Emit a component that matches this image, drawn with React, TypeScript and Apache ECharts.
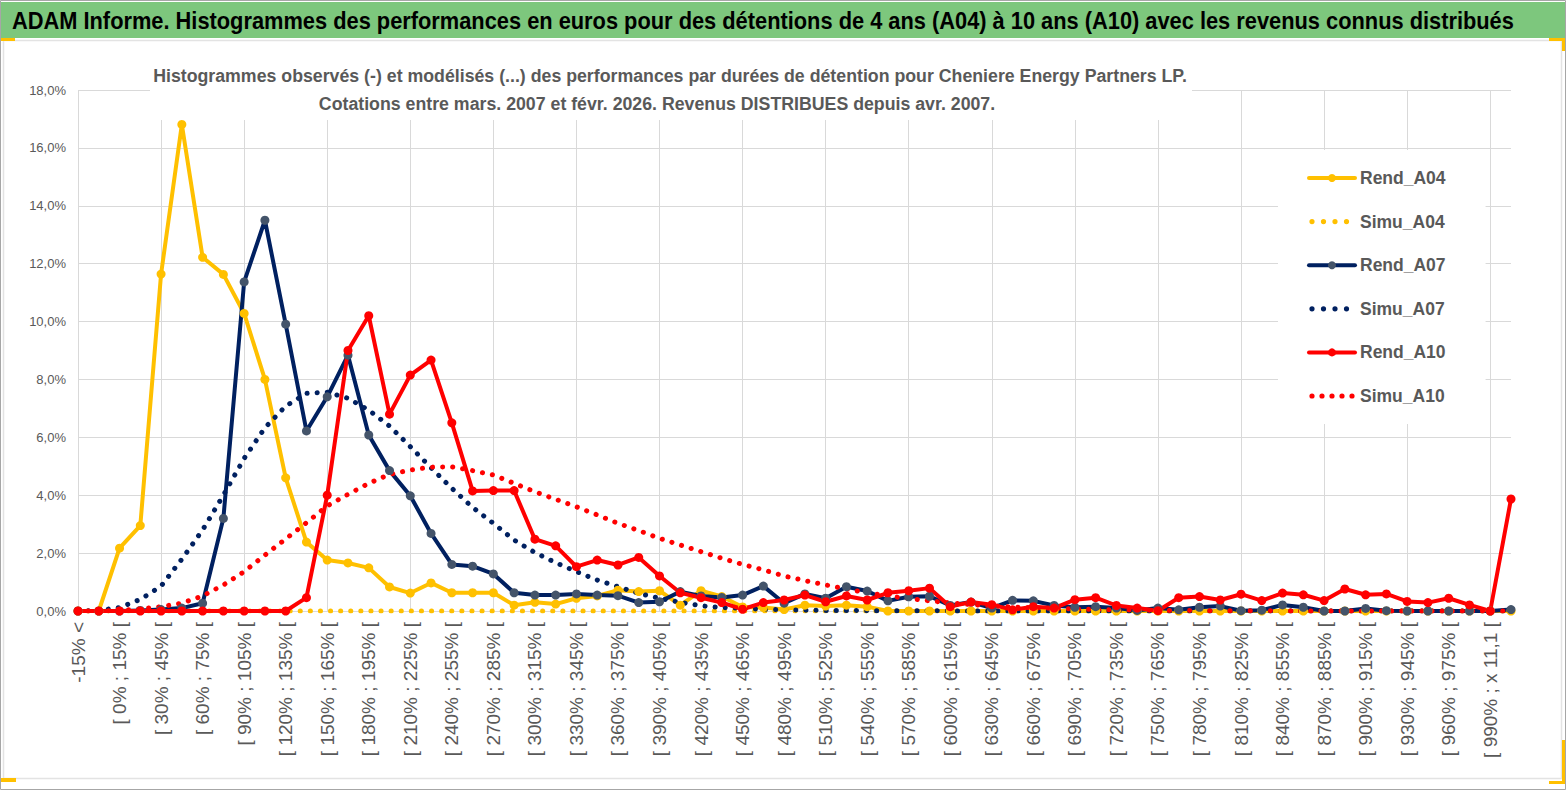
import React, { useEffect, useRef } from "react";
import * as echarts from "echarts";

const FONT = "'Liberation Sans', Arial, sans-serif";

const categories = [
  "-15% <", "[ -15% ; 0% [", "[ 0% ; 15% [", "[ 15% ; 30% [", "[ 30% ; 45% [", "[ 45% ; 60% [",
  "[ 60% ; 75% [", "[ 75% ; 90% [", "[ 90% ; 105% [", "[ 105% ; 120% [", "[ 120% ; 135% [", "[ 135% ; 150% [",
  "[ 150% ; 165% [", "[ 165% ; 180% [", "[ 180% ; 195% [", "[ 195% ; 210% [", "[ 210% ; 225% [", "[ 225% ; 240% [",
  "[ 240% ; 255% [", "[ 255% ; 270% [", "[ 270% ; 285% [", "[ 285% ; 300% [", "[ 300% ; 315% [", "[ 315% ; 330% [",
  "[ 330% ; 345% [", "[ 345% ; 360% [", "[ 360% ; 375% [", "[ 375% ; 390% [", "[ 390% ; 405% [", "[ 405% ; 420% [",
  "[ 420% ; 435% [", "[ 435% ; 450% [", "[ 450% ; 465% [", "[ 465% ; 480% [", "[ 480% ; 495% [", "[ 495% ; 510% [",
  "[ 510% ; 525% [", "[ 525% ; 540% [", "[ 540% ; 555% [", "[ 555% ; 570% [", "[ 570% ; 585% [", "[ 585% ; 600% [",
  "[ 600% ; 615% [", "[ 615% ; 630% [", "[ 630% ; 645% [", "[ 645% ; 660% [", "[ 660% ; 675% [", "[ 675% ; 690% [",
  "[ 690% ; 705% [", "[ 705% ; 720% [", "[ 720% ; 735% [", "[ 735% ; 750% [", "[ 750% ; 765% [", "[ 765% ; 780% [",
  "[ 780% ; 795% [", "[ 795% ; 810% [", "[ 810% ; 825% [", "[ 825% ; 840% [", "[ 840% ; 855% [", "[ 855% ; 870% [",
  "[ 870% ; 885% [", "[ 885% ; 900% [", "[ 900% ; 915% [", "[ 915% ; 930% [", "[ 930% ; 945% [", "[ 945% ; 960% [",
  "[ 960% ; 975% [", "[ 975% ; 990% [", "[ 990% ; x 11,1 [", "x 11,1 <",
];

const rendA04 = [
  0, 0, 2.17, 2.95, 11.64, 16.81, 12.22, 11.63, 10.28, 8.0,
  4.6, 2.38, 1.76, 1.66, 1.49, 0.83, 0.62, 0.97, 0.63, 0.63,
  0.63, 0.2, 0.3, 0.24, 0.44, 0.52, 0.72, 0.67, 0.7, 0.2,
  0.7, 0.5, 0.14, 0.12, 0.05, 0.2, 0.17, 0.2, 0.15, 0,
  0, 0, 0, 0, 0, 0, 0, 0, 0, 0,
  0, 0, 0, 0, 0, 0, 0, 0, 0, 0,
  0, 0, 0, 0, 0, 0, 0, 0, 0, 0,
];

const simuA04 = [
  0, 0, 0, 0, 0, 0, 0, 0, 0, 0,
  0, 0, 0, 0, 0, 0, 0, 0, 0, 0,
  0, 0, 0, 0, 0, 0, 0, 0, 0, 0,
  0, 0, 0, 0, 0, 0, 0, 0, 0, 0,
  0, 0, 0, 0, 0, 0, 0, 0, 0, 0,
  0, 0, 0, 0, 0, 0, 0, 0, 0, 0,
  0, 0, 0, 0, 0, 0, 0, 0, 0, 0,
];

const rendA07 = [
  0, 0, 0, 0.02, 0.05, 0.1, 0.27, 3.2, 11.37, 13.5,
  9.91, 6.22, 7.4, 8.84, 6.08, 4.85, 3.98, 2.68, 1.61, 1.55,
  1.28, 0.63, 0.55, 0.55, 0.59, 0.55, 0.53, 0.29, 0.32, 0.67,
  0.52, 0.47, 0.55, 0.86, 0.27, 0.59, 0.44, 0.84, 0.69, 0.35,
  0.49, 0.51, 0.19, 0.31, 0.1, 0.37, 0.35, 0.19, 0.13, 0.15,
  0.1, 0.02, 0.1, 0.04, 0.13, 0.17, 0.01, 0.03, 0.21, 0.13,
  0, 0, 0.09, 0.01, 0, 0, 0, 0, 0, 0.05,
];

const simuA07 = [
  0, 0.02, 0.12, 0.4, 0.86, 1.79, 2.8, 4.0, 5.27, 6.33,
  7.08, 7.52, 7.56, 7.35, 6.94, 6.39, 5.68, 4.95, 4.24, 3.58,
  3.03, 2.45, 2.02, 1.67, 1.36, 1.07, 0.84, 0.61, 0.44, 0.3,
  0.18, 0.12, 0.09, 0.06, 0.04, 0.03, 0.02, 0.02, 0.01, 0.01,
  0.01, 0.01, 0, 0, 0, 0, 0, 0, 0, 0,
  0, 0, 0, 0, 0, 0, 0, 0, 0, 0,
  0, 0, 0, 0, 0, 0, 0, 0, 0, 0,
];

const rendA10 = [
  0, 0, 0, 0, 0, 0, 0, 0, 0, 0,
  0, 0.46, 4.0, 9.0, 10.2, 6.8, 8.15, 8.67, 6.5, 4.15,
  4.16, 4.16, 2.48, 2.25, 1.53, 1.76, 1.59, 1.85, 1.21, 0.63,
  0.46, 0.29, 0.06, 0.29, 0.38, 0.55, 0.32, 0.52, 0.38, 0.63,
  0.7, 0.79, 0.15, 0.31, 0.22, 0.04, 0.15, 0.1, 0.39, 0.46,
  0.19, 0.1, 0.01, 0.46, 0.5, 0.38, 0.58, 0.36, 0.62, 0.56,
  0.36, 0.76, 0.56, 0.59, 0.33, 0.29, 0.44, 0.21, 0, 3.87,
];

const simuA10 = [
  0, 0, 0.02, 0.07, 0.15, 0.27, 0.52, 0.9, 1.36, 1.93,
  2.49, 3.05, 3.63, 4.03, 4.41, 4.72, 4.87, 4.97, 4.98, 4.85,
  4.7, 4.41, 4.12, 3.86, 3.6, 3.32, 3.03, 2.78, 2.51, 2.28,
  2.05, 1.82, 1.61, 1.42, 1.21, 1.05, 0.9, 0.76, 0.63, 0.52,
  0.43, 0.35, 0.28, 0.22, 0.18, 0.14, 0.11, 0.09, 0.07, 0.05,
  0.04, 0.03, 0.02, 0.02, 0.01, 0.01, 0.01, 0.01, 0, 0,
  0, 0, 0, 0, 0, 0, 0, 0, 0, 0,
];

const yTicks = { min: 0, max: 18, interval: 2 };

const TITLE =
  "ADAM Informe. Histogrammes des performances en euros pour des détentions de 4 ans (A04) à 10 ans (A10) avec les revenus connus distribués";
const SUB1 =
  "Histogrammes observés (-) et modélisés (...) des performances par durées de détention pour Cheniere Energy Partners LP.";
const SUB2 = "Cotations entre mars. 2007 et févr. 2026. Revenus DISTRIBUES depuis avr. 2007.";

const YELLOW = "#FFC000";
const NAVY = "#002060";
const SLATE = "#44546A";
const RED = "#FF0000";

const circle = (cx: number) => `M${cx - 2.6},5 a2.6,2.6 0 1,0 5.2,0 a2.6,2.6 0 1,0 -5.2,0 Z`;
const DOTS4 = "path://M0,0 " + [3, 14.5, 26, 37.5].map(circle).join(" ") + " M46,10";
const DOTS5 = "path://M0,0 " + [3, 13, 23, 33, 43].map(circle).join(" ") + " M46,10";

function solid(name: string, data: number[], line: string, marker: string) {
  return {
    name,
    type: "line",
    data,
    symbol: "circle",
    symbolSize: 9,
    showSymbol: true,
    lineStyle: { color: line, width: 4, cap: "round", join: "round" },
    itemStyle: { color: marker, borderWidth: 0 },
    emphasis: { disabled: true },
  };
}

function dotted(name: string, data: number[], color: string) {
  return {
    name,
    type: "line",
    data,
    symbol: "none",
    lineStyle: { color, width: 5, type: [0.1, 10], cap: "round" },
    itemStyle: { color },
    emphasis: { disabled: true },
  };
}

export default function App() {
  const ref = useRef<HTMLDivElement>(null);
  useEffect(() => {
    if (!ref.current) return;
    const chart = echarts.init(ref.current, null, { renderer: "svg" });
    chart.setOption({
      animation: false,
      backgroundColor: "#ffffff",
      textStyle: { fontFamily: FONT },
      graphic: [
        { type: "rect", z: -10, shape: { x: 0.5, y: 0.5, width: 1565, height: 789 }, style: { fill: "#fff", stroke: "#A6A6A6", lineWidth: 1 } },
        { type: "rect", z: -9, shape: { x: 3.5, y: 40.5, width: 1558, height: 738 }, style: { fill: "#fff", stroke: "#E3E3E3", lineWidth: 1.5 } },
        { type: "rect", z: 10, shape: { x: 1, y: 2, width: 1564, height: 36 }, style: { fill: "#7DC77D" } },
        { type: "rect", z: 10, shape: { x: 1, y: 38, width: 14, height: 3 }, style: { fill: YELLOW } },
        { type: "rect", z: 10, shape: { x: 1549, y: 38, width: 16, height: 3 }, style: { fill: YELLOW } },
        { type: "rect", z: 10, shape: { x: 1562, y: 38, width: 3, height: 13 }, style: { fill: YELLOW } },
        { type: "rect", z: 10, shape: { x: 1, y: 778, width: 15, height: 4 }, style: { fill: YELLOW } },
        { type: "rect", z: 10, shape: { x: 1562, y: 740, width: 3, height: 44 }, style: { fill: YELLOW } },
        { type: "rect", z: 10, shape: { x: 1549, y: 781, width: 16, height: 3 }, style: { fill: YELLOW } },
        {
          type: "text", z: 11, x: 12, y: 21, scaleX: 0.949,
          style: { text: TITLE, fill: "#000", font: `bold 23px ${FONT}`, textAlign: "left", textVerticalAlign: "middle" },
        },
        { type: "rect", z: 5, shape: { x: 150, y: 58, width: 1042, height: 62 }, style: { fill: "#fff" } },
        {
          type: "text", z: 6, x: 670, y: 75, scaleX: 0.934,
          style: { text: SUB1, fill: "#595959", font: `bold 19px ${FONT}`, textAlign: "center", textVerticalAlign: "middle" },
        },
        {
          type: "text", z: 6, x: 657, y: 103, scaleX: 0.934,
          style: { text: SUB2, fill: "#595959", font: `bold 19px ${FONT}`, textAlign: "center", textVerticalAlign: "middle" },
        },
      ],
      legend: {
        orient: "vertical",
        left: 1278,
        top: 150,
        padding: [18, 40, 18, 29],
        backgroundColor: "#fff",
        itemWidth: 46,
        itemHeight: 10,
        itemGap: 23.6,
        itemTextGap: 4,
        textStyle: { fontFamily: FONT, fontSize: 17.5, lineHeight: 20, fontWeight: "bold", color: "#595959" },
        data: [
          { name: "Rend_A04", lineStyle: { width: 4 } },
          { name: "Simu_A04", icon: DOTS4 },
          { name: "Rend_A07", lineStyle: { width: 4 } },
          { name: "Simu_A07", icon: DOTS4 },
          { name: "Rend_A10", lineStyle: { width: 4 } },
          { name: "Simu_A10", icon: DOTS5 },
        ],
      },
      grid: { left: 78, right: 56, top: 90, bottom: 180, containLabel: false },
      xAxis: {
        type: "category",
        data: categories,
        boundaryGap: false,
        axisLine: { show: true, lineStyle: { color: "#D9D9D9", width: 1 } },
        axisTick: { show: false },
        axisLabel: { interval: 1, rotate: 90, margin: 11, fontSize: 19, color: "#595959", fontFamily: FONT },
        splitLine: { show: true, interval: 3, lineStyle: { color: "#D9D9D9", width: 1 } },
      },
      yAxis: {
        type: "value",
        min: yTicks.min,
        max: yTicks.max,
        interval: yTicks.interval,
        axisLine: { show: false },
        axisTick: { show: false },
        axisLabel: {
          margin: 12, fontSize: 13, color: "#595959", fontFamily: FONT,
          formatter: (v: number) => v.toFixed(1).replace(".", ",") + "%",
        },
        splitLine: { show: true, lineStyle: { color: "#D9D9D9", width: 1 } },
      },
      series: [
        solid("Rend_A04", rendA04, YELLOW, YELLOW),
        dotted("Simu_A04", simuA04, YELLOW),
        solid("Rend_A07", rendA07, NAVY, SLATE),
        dotted("Simu_A07", simuA07, NAVY),
        solid("Rend_A10", rendA10, RED, RED),
        dotted("Simu_A10", simuA10, RED),
      ],
    });
    return () => chart.dispose();
  }, []);
  return (
    <div
      ref={ref}
      style={{ position: "fixed", left: 0, top: 0, width: "1567px", height: "791px" }}
    />
  );
}
